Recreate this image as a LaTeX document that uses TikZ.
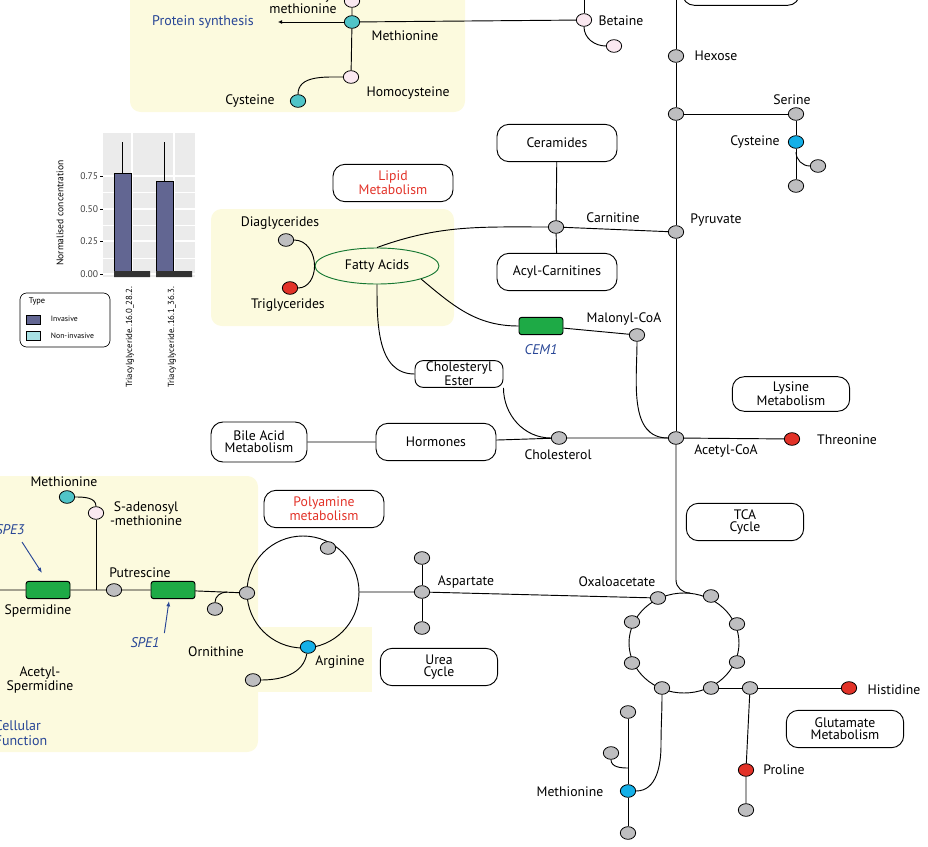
\documentclass[tikz,border=0pt]{standalone}
\usepackage{fontspec}
\setmainfont{PT Sans}
\usetikzlibrary{shapes.geometric,positioning,arrows.meta}
\definecolor{panel}{RGB}{252,250,222}
\definecolor{metgrey}{RGB}{190,190,192}
\definecolor{metred}{RGB}{226,50,40}
\definecolor{metteal}{RGB}{80,196,200}
\definecolor{metblue}{RGB}{20,176,232}
\definecolor{metpink}{RGB}{250,232,240}
\definecolor{enzgreen}{RGB}{30,170,70}
\definecolor{txtblue}{RGB}{40,70,150}
\definecolor{barblue}{RGB}{98,102,146}
\begin{document}
\begin{tikzpicture}[x=0.75pt,y=-0.75pt,
  font=\fontsize{10.3}{9}\selectfont, line width=0.7pt,
  met/.style={ellipse,draw,line width=0.6pt,minimum width=11.5pt,minimum height=9.5pt,inner sep=0pt,fill=metgrey},
  red/.style={met,fill=metred},
  teal/.style={met,fill=metteal},
  blu/.style={met,fill=metblue},
  pink/.style={met,fill=metpink},
  enz/.style={draw,rounded corners=2pt,fill=enzgreen,minimum width=33pt,minimum height=13pt,inner sep=0pt},
  pbox/.style={draw,rounded corners=9pt,align=center,font=\fontsize{10.3}{9}\selectfont,inner sep=0pt},
  lbl/.style={inner sep=1pt,align=center},
  gene/.style={font=\fontsize{10.5}{10}\selectfont\itshape,text=txtblue}]
\useasboundingbox (0,0) rectangle (928,846);
% panels
\fill[panel,rounded corners=8pt] (130,-20) rectangle (465,112);
\fill[panel,rounded corners=8pt] (211,209) rectangle (454,326);
\fill[panel,rounded corners=8pt] (-20,476) rectangle (258,752);
\fill[panel] (250,627) rectangle (372,692);
% top panel
\node[pink] (sam1) at (352,1) {};
\node[teal] (met1) at (352,22) {};
\node[pink] (hcy) at (351,77) {};
\node[teal] (cys1) at (298,101) {};
\node[lbl] at (303,2) {S-adenosyl\\methionine};
\node[lbl] at (405,36) {Methionine};
\node[lbl] at (408,93) {Homocysteine};
\node[lbl] at (250,101) {Cysteine};
\node[lbl,text=txtblue,font=\fontsize{10.5}{10}\selectfont] (prot) at (203,22) {Protein synthesis};
\coordinate (protend) at (278,22);
\node[pink] (bet) at (584,20) {};
\node[pink] (bet2) at (614,46) {};
\node[lbl] at (621,21) {Betaine};
\draw (sam1) -- (met1) -- (hcy);
\draw[-{Latex[length=3pt,width=3pt]}] (met1) -- (protend);
\draw (met1) -- (bet);
\draw (hcy) to[out=180,in=90] (cys1);
\draw (bet) to[out=-90,in=180] (bet2);
\draw (bet) -- ++(0,-25);
\node[pbox,minimum width=88pt,minimum height=20pt] at (741,-8) {};
% right column
\coordinate (topcol) at (676,-10);
\node[met] (hex) at (676,56) {};
\node[lbl] at (716,56) {Hexose};
\node[met] (jser) at (676,114) {};
\node[met] (ser) at (796,114) {};
\node[lbl] at (792,100) {Serine};
\node[blu] (cys2) at (796,142) {};
\node[lbl] at (755,142) {Cysteine};
\node[met] (cys2a) at (818,166) {};
\node[met] (cys2b) at (796,186) {};
\node[met] (pyr) at (676,232) {};
\node[lbl] at (716,220) {Pyruvate};
\node[met] (acoa) at (676,438) {};
\node[lbl] at (726,451) {Acetyl-CoA};
\node[red] (thr) at (792,439) {};
\node[lbl] at (847,440) {Threonine};
\draw (topcol) -- (hex) -- (jser) -- (pyr) -- (acoa);
\draw (jser) -- (ser) -- (cys2) -- (cys2b);
\draw (cys2) ++(0,10) coordinate (cj) to[out=-90,in=180] (cys2a);
\draw (acoa) -- (thr);
\node[pbox,minimum width=88pt,minimum height=26pt] at (791,394) {Lysine\\Metabolism};
\node[pbox,minimum width=88pt,minimum height=28pt] at (745,522) {TCA\\Cycle};
% lipid
\node[pbox,minimum width=90pt,minimum height=28pt,text=metred] at (393,183) {Lipid\\Metabolism};
\node[pbox,minimum width=90pt,minimum height=28pt] (cer) at (557,143) {Ceramides};
\node[pbox,minimum width=90pt,minimum height=28pt] (acar) at (557,272) {Acyl-Carnitines};
\node[met] (carn) at (556,227) {};
\node[lbl] at (613,218) {Carnitine};
\draw (cer) -- (carn) -- (acar);
\node[ellipse,draw=enzgreen!70!black,minimum width=93pt,minimum height=27pt,inner sep=0pt] (fa) at (377,266) {Fatty Acids};
\node[met] (dag) at (286,240) {};
\node[red] (tag) at (290,288) {};
\node[lbl] at (280,223) {Diaglycerides};
\node[lbl] at (288,305) {Triglycerides};
\draw (dag) to[out=0,in=90] (fa.west) to[out=-90,in=0] (tag);
\draw (fa.north) to[out=20,in=180] (carn) -- (pyr);
\node[enz] (cem) at (541,326) {};
\node[gene] at (541,350) {CEM1};
\node[met] (mal) at (637,335) {};
\node[lbl] at (624,319) {Malonyl-CoA};
\draw (fa.south east) to[out=-40,in=180] (cem) -- (mal);
\draw (mal) to[out=-90,in=180] (acoa);
\node[pbox,rounded corners=6pt,minimum width=66pt,minimum height=20pt] (chest) at (459,374) {Cholesteryl\\Ester};
\draw (fa.south) to[out=-90,in=180] (chest.west);
\node[met] (chol) at (559,438) {};
\node[lbl] at (558,455) {Cholesterol};
\draw (chest.south east) to[out=-90,in=180] (chol);
\node[pbox,minimum width=90pt,minimum height=28pt] (horm) at (436,442) {Hormones};
\node[pbox,minimum width=72pt,minimum height=30pt] (bile) at (259,442) {Bile Acid\\Metabolism};
\draw (bile) -- (horm) -- (chol) -- (acoa);
% TCA cycle
\draw (684,643) ellipse [x radius=55, y radius=50];
\foreach \n/\x/\y in {t1/658/598,t2/711/596,t3/632/622,t4/737/624,t5/632/663,t6/737/662,t7/662/688,t8/711/688}
  \node[met] (\n) at (\x,\y) {};
\draw (acoa) -- (676,580) to[out=-90,in=180] (690,593);
\node[lbl] at (617,582) {Oxaloacetate};
\node[met] (j1) at (750,688) {};
\node[red] (his) at (849,688) {};
\node[lbl] at (894,690) {Histidine};
\node[red] (pro) at (746,770) {};
\node[lbl] at (784,770) {Proline};
\node[met] (pro2) at (746,810) {};
\draw (t8) -- (j1) -- (his);
\draw (j1) -- (pro) -- (pro2);
\node[pbox,minimum width=88pt,minimum height=28pt] at (845,729) {Glutamate\\Metabolism};
\node[met] (m1) at (628,712) {};
\node[met] (m2) at (611,753) {};
\node[blu] (met3) at (628,791) {};
\node[met] (m3) at (628,833) {};
\node[lbl] at (570,792) {Methionine};
\draw (m1) -- (met3) -- (m3);
\draw (m2) to[out=-90,in=180] (628,768);
\draw (t7) to[out=-90,in=90] (661,745) to[out=-90,in=0] (met3);
% polyamine
\draw (303,592) circle [radius=56];
\node[met] (p1) at (328,548) {};
\node[met] (p2) at (247,593) {};
\node[blu] (arg) at (308,647) {};
\node[met] (arg2) at (253,680) {};
\node[lbl] at (340,662) {Arginine};
\draw (arg) to[out=-100,in=0] (arg2);
\node[pbox,minimum width=90pt,minimum height=28pt,text=metred] at (324,509) {Polyamine\\metabolism};
\node[pbox,minimum width=88pt,minimum height=28pt] at (439,667) {Urea\\Cycle};
\node[met] (asp) at (422,592) {};
\node[met] (asp1) at (422,558) {};
\node[met] (asp2) at (422,628) {};
\node[lbl] at (466,582) {Aspartate};
\draw (asp1) -- (asp) -- (asp2);
\draw (359,592) -- (asp) -- (t1);
% left panel
\node[teal] (met4) at (67,497) {};
\node[pink] (sam2) at (96,513) {};
\node[lbl] at (64,482) {Methionine};
\node[lbl] at (146,514) {S-adenosyl\\-methionine};
\draw (met4) to[out=0,in=90] (sam2);
\coordinate (lft) at (-5,590);
\node[enz] (spe3) at (48,590) {};
\node[met] (put) at (114,590) {};
\node[enz] (spe1) at (173,590) {};
\node[met] (orn) at (215,609) {};
\draw (lft) -- (spe3) -- (put) -- (spe1) -- (p2);
\draw (sam2) -- (96,590);
\draw (orn) to[out=90,in=180] (227,592);
\node[lbl] at (140,573) {Putrescine};
\node[lbl] at (38,611) {Spermidine};
\node[lbl] at (216,652) {Ornithine};
\node[lbl] at (40,680) {Acetyl-\\Spermidine};
\node[gene] (g3) at (10,530) {SPE3};
\node[gene] (g1) at (145,643) {SPE1};
\draw[-{Latex[length=4pt]},txtblue] (22,542) -- (42,573);
\draw[-{Latex[length=4pt]},txtblue] (g1.north east) -- (169,601);
\node[lbl,align=left,anchor=west,text=txtblue,font=\fontsize{10.5}{11}\selectfont] at (-7,733) {Cellular\\Function};
% bar chart
\fill[black!8] (103,133) rectangle (195,277);
\foreach \y in {192,225,258} \draw[white,line width=0.4pt] (103,\y) -- (195,\y);
\foreach \y in {176,209,241,274} \draw[white,line width=0.8pt] (103,\y) -- (195,\y);
\foreach \x in {132,174} \draw[white,line width=0.8pt] (\x,133) -- (\x,277);
\draw[line width=0.4pt] (122,142) -- (122,173);
\draw[line width=0.4pt] (164,142) -- (164,181);
\draw[line width=0.4pt,fill=barblue] (114,173) rectangle (131,275);
\draw[line width=0.4pt,fill=barblue] (156,181) rectangle (173,275);
\fill[black!80] (114,271) rectangle (150,277) (156,271) rectangle (192,277);
\foreach \v/\y in {0.75/176,0.50/209,0.25/241,0.00/274}{
  \draw[line width=0.4pt] (100,\y) -- (103,\y);
  \node[font=\fontsize{7.2}{7}\selectfont,anchor=east,inner sep=1pt,text=black!75] at (100,\y) {\v};}
\node[rotate=90,font=\fontsize{7.2}{7}\selectfont] at (60,213) {Normalised concentration};
\node[rotate=90,anchor=east,font=\fontsize{6.6}{7}\selectfont] at (130,282) {Triacylglyceride..16.0\_28.2.};
\node[rotate=90,anchor=east,font=\fontsize{6.6}{7}\selectfont] at (172,282) {Triacylglyceride..16.1\_36.3.};
\draw[rounded corners=5pt,line width=0.5pt] (20,293) rectangle (110,347);
\node[anchor=west,font=\fontsize{6.3}{7}\selectfont] at (24,301) {Type};
\draw[line width=0.3pt,fill=barblue] (26,315) rectangle (40,324);
\draw[line width=0.3pt,fill=metteal!50] (26,331) rectangle (40,340);
\node[anchor=west,font=\fontsize{5.8}{6}\selectfont] at (46,319) {Invasive};
\node[anchor=west,font=\fontsize{5.8}{6}\selectfont] at (46,336) {Non-invasive};
\end{tikzpicture}
\end{document}
